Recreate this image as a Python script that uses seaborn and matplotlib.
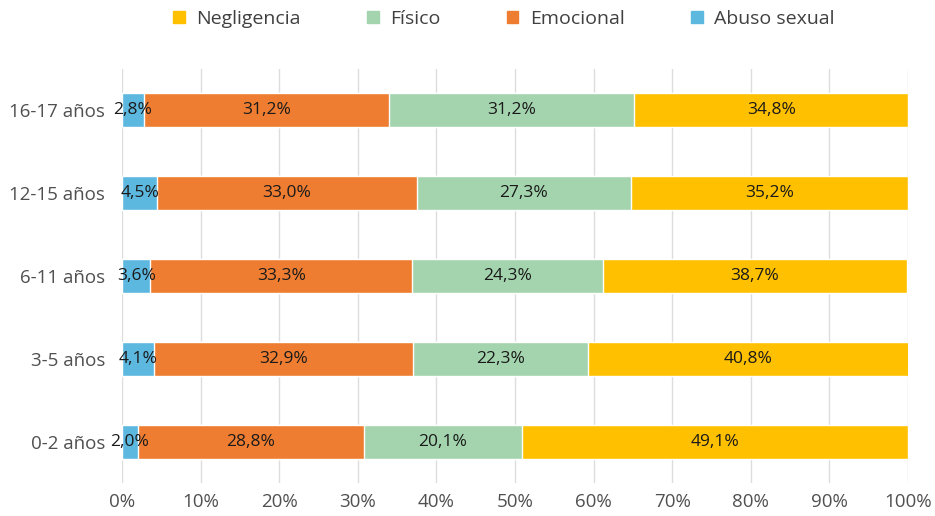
import matplotlib
matplotlib.use("Agg")
import matplotlib.pyplot as plt
import seaborn as sns
import pandas as pd
import numpy as np
from matplotlib.patches import Patch
from matplotlib.ticker import PercentFormatter

# datos (en %)
grupos = ["16-17 años", "12-15 años", "6-11 años", "3-5 años", "0-2 años"]
abuso_sexual = [2.8, 4.5, 3.6, 4.1, 2.0]
emocional = [31.2, 33.0, 33.3, 32.9, 28.8]
fisico = [31.2, 27.3, 24.3, 22.3, 20.1]
negligencia = [34.8, 35.2, 38.7, 40.8, 49.1]

series = ["Abuso sexual", "Emocional", "Físico", "Negligencia"]
colores = {"Abuso sexual": "#5DB8E0", "Emocional": "#EE7D31",
           "Físico": "#A3D4AE", "Negligencia": "#FFC000"}

df = pd.DataFrame({"grupo": grupos, "Abuso sexual": abuso_sexual,
                   "Emocional": emocional, "Físico": fisico,
                   "Negligencia": negligencia})
cum = df[series].cumsum(axis=1)

sns.set_style("white")
plt.rcParams["font.family"] = ["Open Sans", "DejaVu Sans"]

fig = plt.figure(figsize=(9.35, 5.16), dpi=100)
ax = fig.add_axes([0.1305, 0.063, 0.8405, 0.804])

# barras apiladas: se dibujan los acumulados de mayor a menor
for s in reversed(series):
    sns.barplot(x=cum[s], y=df["grupo"], color=colores[s], width=0.41,
                orient="h", ax=ax, saturation=1, zorder=3)

for i, row in df.iterrows():
    for s in series:
        centro = cum.loc[i, s] - row[s] / 2
        ax.text(centro, i, f"{row[s]:.1f}%".replace(".", ","),
                ha="center", va="center", fontsize=12.5, color="#1a1a1a", zorder=4)

ax.set_xlim(0, 100)
ax.set_xticks(np.arange(0, 101, 10))
ax.xaxis.set_major_formatter(PercentFormatter(decimals=0))
ax.grid(axis="x", color="#DDDDDD", linewidth=1, zorder=0)
ax.set_axisbelow(True)
for sp in ax.spines.values():
    sp.set_visible(False)
ax.set_xlabel("")
ax.set_ylabel("")
ax.tick_params(axis="both", length=0, labelsize=13.5, colors="#505050")
ax.tick_params(axis="x", pad=7)
ax.tick_params(axis="y", pad=12)

handles = [Patch(color=colores[s], label=s) for s in reversed(series)]
fig.legend(handles=handles, loc="center", bbox_to_anchor=(0.539, 0.963), ncol=4,
           frameon=False, fontsize=14, handlelength=0.6, handleheight=0.6,
           columnspacing=3.4, handletextpad=0.6, labelcolor="#404040")

fig.savefig("out.png", dpi=100)
